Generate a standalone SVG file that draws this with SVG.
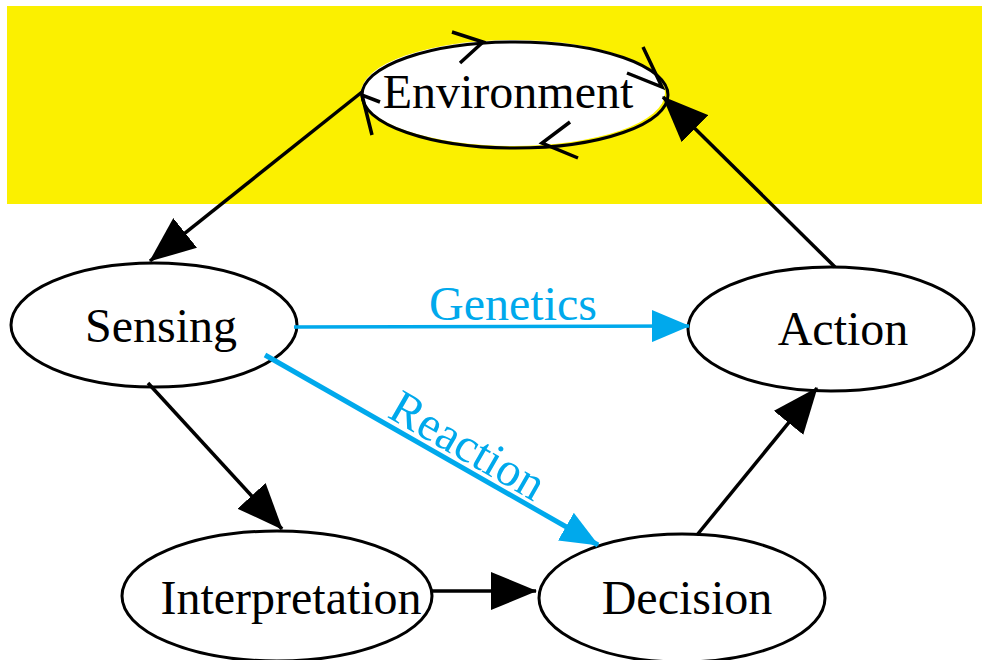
<svg xmlns="http://www.w3.org/2000/svg" width="982" height="660" viewBox="0 0 982 660">
<defs>
<style>
.node{fill:#fff;stroke:#000;stroke-width:3}
.lbl{font-family:"Liberation Serif","Times New Roman",serif;font-size:48px;fill:#000;text-anchor:middle}
.blue{fill:#00A9EC}
.edge{stroke:#000;stroke-width:3.5;fill:none}
.bedge{stroke:#00A9EC;fill:none}
.vee{stroke:#000;stroke-width:3.5;fill:none;stroke-linecap:butt}
</style>
<marker id="ah" markerUnits="userSpaceOnUse" viewBox="0 0 46 38" markerWidth="46" markerHeight="38" refX="45" refY="19" orient="auto">
<path d="M0,0 L46,19 L0,38 z" fill="#000"/>
</marker>
<marker id="bh" markerUnits="userSpaceOnUse" viewBox="0 0 38 32" markerWidth="38" markerHeight="32" refX="37" refY="16" orient="auto">
<path d="M0,0 L38,16 L0,32 z" fill="#00A9EC"/>
</marker>
</defs>
<rect x="7" y="6" width="975" height="198" fill="#FBF000"/>
<g id="environment">
<ellipse cx="513" cy="93" rx="152" ry="53" fill="#fff"/>
<ellipse cx="515" cy="95" rx="153" ry="53" fill="none" stroke="#000" stroke-width="3"/>
<polyline class="vee" points="452,32 483,42 460,63"/>
<polyline class="vee" points="643,47 662,87 627,73"/>
<polyline class="vee" points="570,122 542,143 578,158"/>
<polyline class="vee" points="380,102 362,95 372,135"/>
<text class="lbl" x="508" y="108">Environment</text>
</g>
<g id="sensing">
<ellipse class="node" cx="154" cy="325" rx="143" ry="62"/>
<text class="lbl" x="161" y="342">Sensing</text>
</g>
<g id="action">
<ellipse class="node" cx="831" cy="329" rx="143" ry="62"/>
<text class="lbl" x="843" y="345">Action</text>
</g>
<g id="interpretation">
<ellipse class="node" cx="277" cy="596" rx="155" ry="65"/>
<text class="lbl" x="291" y="614">Interpretation</text>
</g>
<g id="decision">
<ellipse class="node" cx="682" cy="598" rx="143" ry="64"/>
<text class="lbl" x="687" y="614">Decision</text>
</g>
<g id="connectors">
<line class="edge" x1="362" y1="92" x2="150" y2="261" marker-end="url(#ah)"/>
<line class="edge" x1="835" y1="267" x2="663" y2="97" marker-end="url(#ah)"/>
<line class="edge" x1="148" y1="383" x2="282" y2="529" marker-end="url(#ah)"/>
<line class="edge" x1="432" y1="591" x2="536" y2="591" marker-end="url(#ah)"/>
<line class="edge" x1="697" y1="535" x2="817" y2="388" marker-end="url(#ah)"/>
<line class="bedge" stroke-width="3.5" x1="294" y1="327" x2="689" y2="326" marker-end="url(#bh)"/>
<line class="bedge" stroke-width="5" x1="265" y1="355" x2="598" y2="545" marker-end="url(#bh)"/>
<text class="lbl blue" x="513" y="320">Genetics</text>
<text class="lbl blue" x="467" y="461" transform="rotate(30 467 447)">Reaction</text>
</g>
</svg>
